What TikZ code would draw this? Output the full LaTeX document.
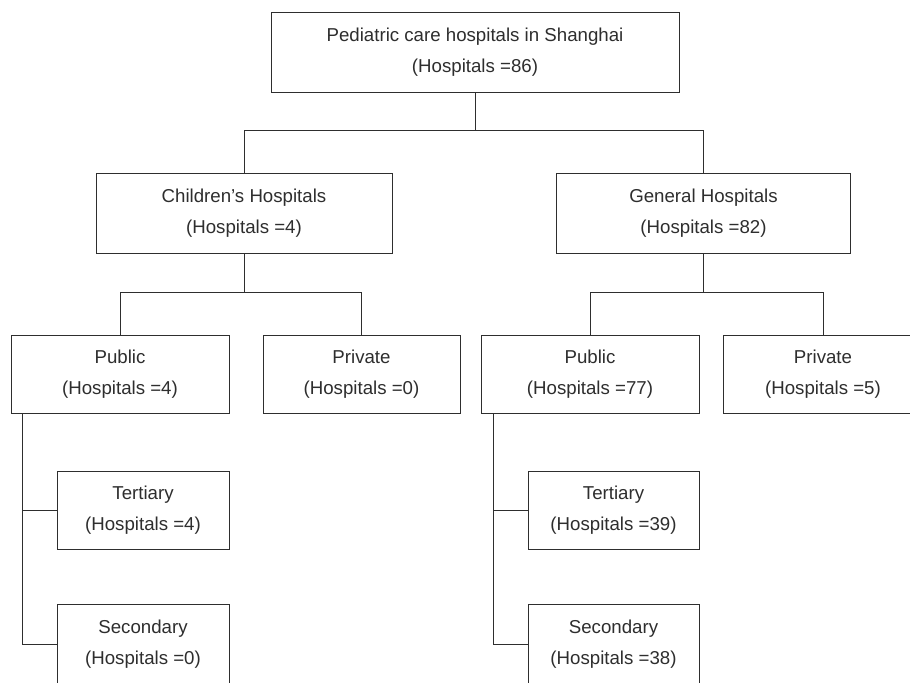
\documentclass[tikz,border=0pt]{standalone}
\usepackage{fontspec}
\setmainfont{Liberation Sans}
\usepackage{xcolor}
\usepackage{tikz}
\usetikzlibrary{positioning}
\pgfdeclarelayer{nodelayer}
\pgfdeclarelayer{edgelayer}
\pgfsetlayers{main,edgelayer,nodelayer}
\definecolor{inkgray}{HTML}{2E2E2E}
\tikzstyle{hosp box}=[fill=white, draw=inkgray, line width=0.7pt, shape=rectangle, align=center, text=inkgray, font=\fontsize{14}{23.2}\selectfont, minimum height=60pt, inner sep=0pt]
\tikzstyle{tree_edge}=[-, draw=inkgray, line width=0.75pt]

\begin{document}
\begin{tikzpicture}[x=0.75pt, y=-0.75pt]
        \clip (0,0) rectangle (910,682);
        \useasboundingbox (0,0) rectangle (910,682);
        \begin{pgfonlayer}{nodelayer}
            \node[style=hosp box, minimum width=306pt] (root) at (475,52) {Pediatric care hospitals in Shanghai\\(Hospitals =86)};
            \node[style=hosp box, minimum width=222pt] (child) at (244,213) {Children’s Hospitals\\(Hospitals =4)};
            \node[style=hosp box, minimum width=221pt] (general) at (703.5,213) {General Hospitals\\(Hospitals =82)};
            \node[style=hosp box, minimum width=163.5pt, minimum height=59pt] (cpub) at (120,374.5) {Public\\(Hospitals =4)};
            \node[style=hosp box, minimum width=147.75pt, minimum height=59pt] (cpriv) at (361.5,374.5) {Private\\(Hospitals =0)};
            \node[style=hosp box, minimum width=163.5pt, minimum height=59pt] (gpub) at (590,374.5) {Public\\(Hospitals =77)};
            \node[style=hosp box, minimum width=150pt, minimum height=59pt] (gpriv) at (823,374.5) {Private\\(Hospitals =5)};
            \node[style=hosp box, minimum width=129pt, minimum height=59pt] (ctert) at (143,510.5) {Tertiary\\(Hospitals =4)};
            \node[style=hosp box, minimum width=129pt] (csec) at (143,644) {Secondary\\(Hospitals =0)};
            \node[style=hosp box, minimum width=128.25pt, minimum height=59pt] (gtert) at (613.5,510.5) {Tertiary\\(Hospitals =39)};
            \node[style=hosp box, minimum width=128.25pt] (gsec) at (613.5,644) {Secondary\\(Hospitals =38)};
        \end{pgfonlayer}
        \begin{pgfonlayer}{edgelayer}
            \draw[style={tree_edge}] (root.south) -- ++(0,38) coordinate (rootjoin);
            \draw[style={tree_edge}] (child.north) |- (rootjoin) -| (general.north);
            \draw[style={tree_edge}] (child.south) -- ++(0,39) coordinate (childjoin);
            \draw[style={tree_edge}] (cpub.north) |- (childjoin) -| (cpriv.north);
            \draw[style={tree_edge}] (general.south) -- ++(0,39) coordinate (genjoin);
            \draw[style={tree_edge}] (gpub.north) |- (genjoin) -| (gpriv.north);
            \draw[style={tree_edge}] ([xshift=9pt]cpub.south west) |- (ctert.west);
            \draw[style={tree_edge}] ([xshift=9pt]cpub.south west) |- (csec.west);
            \draw[style={tree_edge}] ([xshift=9.75pt]gpub.south west) |- (gtert.west);
            \draw[style={tree_edge}] ([xshift=9.75pt]gpub.south west) |- (gsec.west);
        \end{pgfonlayer}
    \end{tikzpicture}
\end{document}
